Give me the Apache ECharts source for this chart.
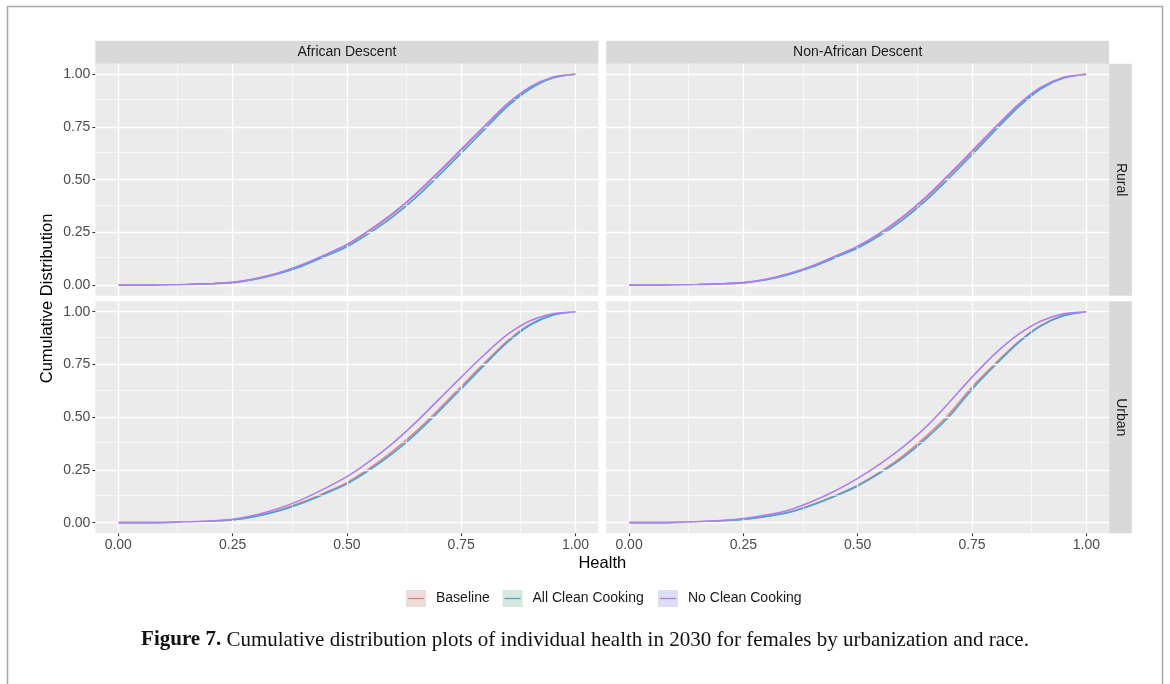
<!DOCTYPE html>
<html><head><meta charset="utf-8">
<script src="https://cdn.jsdelivr.net/npm/echarts@6/dist/echarts.min.js"></script>
<style>html,body{margin:0;padding:0;background:#fff}#c{width:1170px;height:684px}</style>
</head><body><div id="c"></div><script>
// ---- data ----
const health = [0,0.05,0.1,0.15,0.2,0.25,0.3,0.35,0.4,0.45,0.5,0.55,0.6,0.65,0.7,0.75,0.8,0.85,0.9,0.95,1];
const xTicks = [0,0.25,0.5,0.75,1];
const yTicks = [0,0.25,0.5,0.75,1];
const minorTicks = [0.125,0.375,0.625,0.875];
const scenarios = ['Baseline','All Clean Cooking','No Clean Cooking'];
const raceLabels = ['African Descent','Non-African Descent'];
const urbanLabels = ['Rural','Urban'];

const afrRuralBaseline = [0,0,0.001,0.003,0.007,0.013,0.030,0.057,0.093,0.140,0.190,0.258,0.336,0.428,0.532,0.640,0.748,0.855,0.937,0.985,1];
const afrRuralAllClean = [0,0,0.001,0.003,0.006,0.012,0.028,0.054,0.089,0.134,0.182,0.248,0.324,0.414,0.518,0.626,0.736,0.845,0.930,0.982,1];
const afrRuralNoClean  = [0,0,0.001,0.003,0.007,0.013,0.031,0.058,0.095,0.142,0.193,0.262,0.340,0.432,0.536,0.644,0.752,0.858,0.939,0.986,1];

const nonRuralBaseline = [0,0,0.001,0.003,0.006,0.012,0.028,0.054,0.090,0.135,0.182,0.245,0.322,0.415,0.520,0.630,0.742,0.850,0.935,0.984,1];
const nonRuralAllClean = [0,0,0.001,0.003,0.006,0.011,0.026,0.051,0.086,0.130,0.176,0.237,0.312,0.403,0.508,0.618,0.732,0.842,0.930,0.982,1];
const nonRuralNoClean  = [0,0,0.001,0.003,0.006,0.012,0.028,0.055,0.091,0.137,0.185,0.249,0.327,0.420,0.526,0.636,0.747,0.854,0.937,0.985,1];

const afrUrbanBaseline = [0,0,0.001,0.003,0.007,0.014,0.031,0.058,0.095,0.140,0.190,0.258,0.338,0.430,0.535,0.645,0.755,0.860,0.940,0.986,1];
const afrUrbanAllClean = [0,0,0.001,0.003,0.006,0.013,0.029,0.055,0.091,0.135,0.184,0.250,0.328,0.420,0.525,0.635,0.746,0.853,0.936,0.984,1];
const afrUrbanNoClean  = [0,0,0.001,0.004,0.008,0.016,0.036,0.067,0.108,0.160,0.218,0.292,0.376,0.474,0.582,0.690,0.795,0.890,0.956,0.990,1];

const nonUrbanBaseline = [0,0,0.001,0.004,0.008,0.016,0.030,0.050,0.085,0.128,0.178,0.242,0.318,0.410,0.515,0.643,0.752,0.855,0.935,0.982,1];
const nonUrbanAllClean = [0,0,0.001,0.004,0.008,0.015,0.029,0.049,0.083,0.125,0.174,0.237,0.310,0.400,0.503,0.632,0.745,0.850,0.932,0.981,1];
const nonUrbanNoClean  = [0,0,0.002,0.005,0.010,0.020,0.036,0.060,0.100,0.150,0.210,0.280,0.360,0.455,0.570,0.690,0.800,0.890,0.955,0.990,1];

// panels: [rowIndex, colIndex, [baseline, allClean, noClean]]
const panels = [
  [0,0,[afrRuralBaseline,afrRuralAllClean,afrRuralNoClean]],
  [0,1,[nonRuralBaseline,nonRuralAllClean,nonRuralNoClean]],
  [1,0,[afrUrbanBaseline,afrUrbanAllClean,afrUrbanNoClean]],
  [1,1,[nonUrbanBaseline,nonUrbanAllClean,nonUrbanNoClean]]
];

// ---- styling / layout ----
const lineColors = ['#F07C7E','#3FA6DA','#AE7EEC'];
const keyFills = ['#EEDCDC','#D5E9DE','#DDDDF3'];
const FONT = '"Liberation Sans", Arial, sans-serif';
const colLeft = [95.4, 606.2], panelW = 503;
const rowTop = [63.7, 301.2], panelH = 232;
const stripH = 23, stripW = 22.6;

const chart = echarts.init(document.getElementById('c'), null, {renderer:'canvas'});
const grids = [], xAxes = [], yAxes = [], series = [], graphics = [];

panels.forEach((p, i) => {
  const [r, c, vals] = p;
  grids.push({left: colLeft[c], top: rowTop[r], width: panelW, height: panelH,
    show: true, backgroundColor: '#EBEBEB', borderWidth: 0});
  const bottom = r === 1, left = c === 0;
  xAxes.push({type:'value', gridIndex:i, min:-0.05, max:1.05, position:'bottom',
    axisLine:{show:true, onZero:false, lineStyle:{color:'rgba(0,0,0,0)', width:0}}, splitLine:{show:false},
    axisTick:{show:bottom, inside:false, customValues:xTicks, length:3, lineStyle:{color:'#333333', width:1.1}},
    axisLabel:{show:bottom, customValues:xTicks, formatter:v=>v.toFixed(2), color:'#4D4D4D',
      fontSize:14, fontFamily:FONT, margin:5}});
  yAxes.push({type:'value', gridIndex:i, min:-0.05, max:1.05, position:'left',
    axisLine:{show:true, onZero:false, lineStyle:{color:'rgba(0,0,0,0)', width:0}}, splitLine:{show:false},
    axisTick:{show:left, inside:false, customValues:yTicks, length:3, lineStyle:{color:'#333333', width:1.1}},
    axisLabel:{show:left, customValues:yTicks, formatter:v=>v.toFixed(2), color:'#4D4D4D',
      fontSize:14, fontFamily:FONT, margin:5}});
  // grid lines drawn through the axes
  const ml = [];
  minorTicks.forEach(v => { ml.push({xAxis:v, lineStyle:{width:0.6}}); ml.push({yAxis:v, lineStyle:{width:0.6}}); });
  xTicks.forEach(v => ml.push({xAxis:v, lineStyle:{width:1.3}}));
  yTicks.forEach(v => ml.push({yAxis:v, lineStyle:{width:1.3}}));
  series.push({type:'line', xAxisIndex:i, yAxisIndex:i, data:[], z:1, silent:true,
    markLine:{silent:true, symbol:['none','none'], label:{show:false}, animation:false,
      lineStyle:{color:'#FFFFFF', type:'solid'}, emphasis:{disabled:true}, data:ml}});
  vals.forEach((arr, k) => {
    series.push({type:'line', name:scenarios[k], xAxisIndex:i, yAxisIndex:i, z:3+k,
      data: health.map((h, j) => [h, arr[j]]), showSymbol:false, smooth:0.3,
      lineStyle:{color:lineColors[k], width:1.6}, itemStyle:{color:lineColors[k]}, silent:true});
  });
});

// strips
raceLabels.forEach((t, c) => {
  graphics.push({type:'rect', shape:{x:colLeft[c], y:rowTop[0]-stripH, width:panelW, height:stripH}, style:{fill:'#D9D9D9'}});
  graphics.push({type:'text', x:colLeft[c]+panelW/2, y:rowTop[0]-stripH/2,
    style:{text:t, fill:'#1A1A1A', font:'14px '+FONT, textAlign:'center', textVerticalAlign:'middle'}});
});
urbanLabels.forEach((t, r) => {
  const x0 = colLeft[1]+panelW;
  graphics.push({type:'rect', shape:{x:x0, y:rowTop[r], width:stripW, height:panelH}, style:{fill:'#D9D9D9'}});
  graphics.push({type:'text', x:x0+stripW/2, y:rowTop[r]+panelH/2, rotation:-Math.PI/2,
    style:{text:t, fill:'#1A1A1A', font:'14px '+FONT, textAlign:'center', textVerticalAlign:'middle'}});
});
// axis titles
graphics.push({type:'text', x:(colLeft[0]+colLeft[1]+panelW)/2, y:563,
  style:{text:'Health', fill:'#000', font:'16.5px '+FONT, textAlign:'center', textVerticalAlign:'middle'}});
graphics.push({type:'text', x:47.5, y:(rowTop[0]+rowTop[1]+panelH)/2, rotation:Math.PI/2,
  style:{text:'Cumulative Distribution', fill:'#000', font:'16.5px '+FONT, textAlign:'center', textVerticalAlign:'middle'}});
// legend
const keyX = [406, 502.5, 658];
scenarios.forEach((s, k) => {
  graphics.push({type:'rect', shape:{x:keyX[k], y:590, width:20, height:17}, style:{fill:keyFills[k]}});
  graphics.push({type:'line', shape:{x1:keyX[k]+2, y1:598.5, x2:keyX[k]+18, y2:598.5}, style:{stroke:lineColors[k], lineWidth:1.3}});
  graphics.push({type:'text', x:keyX[k]+30, y:598.5,
    style:{text:s, fill:'#1A1A1A', font:'14px '+FONT, textAlign:'left', textVerticalAlign:'middle'}});
});
// figure frame and caption
graphics.push({type:'rect', shape:{x:7.5, y:6.5, width:1155, height:720}, style:{fill:null, stroke:'#A8A8A8', lineWidth:1.5}});
graphics.push({type:'text', x:585, y:640,
  style:{text:'{b|Figure 7.} Cumulative distribution plots of individual health in 2030 for females by urbanization and race.',
    fill:'#111', font:'21px "Liberation Serif", "DejaVu Serif", serif', textAlign:'center', textVerticalAlign:'middle',
    rich:{b:{fontWeight:'bold', fontSize:21, fontFamily:'"Liberation Serif", serif', fill:'#111'}}}});

chart.setOption({
  animation:false, backgroundColor:'#fff',
  grid:grids, xAxis:xAxes, yAxis:yAxes, series:series, graphic:graphics
});
</script></body></html>
